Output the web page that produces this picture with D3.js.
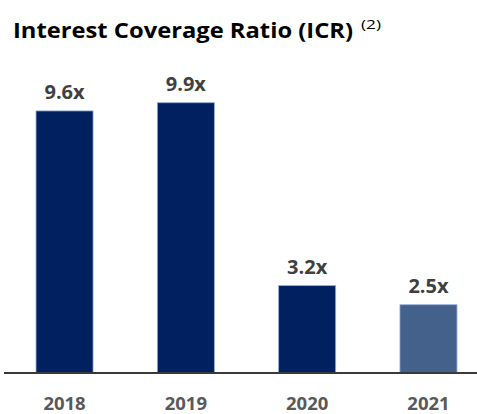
<!DOCTYPE html>
<html>
<head>
  <meta charset="utf-8">
  <script src="https://d3js.org/d3.v7.min.js"></script>
  <style>
    body { margin: 0; background: #fff; }
    text { font-family: "Open Sans", sans-serif; }
  </style>
</head>
<body>
  <script>
    // chart data
    var years = ["2018", "2019", "2020", "2021"];
    var icr = [9.6, 9.9, 3.2, 2.5];
    var valueLabels = ["9.6x", "9.9x", "3.2x", "2.5x"];
    var barColors = ["#002060", "#002060", "#002060", "#44618b"];

    var width = 477, height = 414;
    var baseline = 373;

    var svg = d3.select("body").append("svg")
        .attr("width", width)
        .attr("height", height);

    // title (Open Sans squeezed a bit to stand in for Calibri)
    svg.append("text")
        .attr("x", 13)
        .attr("y", 38)
        .attr("textLength", 340)
        .attr("lengthAdjust", "spacingAndGlyphs")
        .style("font-size", "21px")
        .style("font-weight", "bold")
        .style("fill", "#000")
        .text("Interest Coverage Ratio (ICR)");

    svg.append("text")
        .attr("x", 361)
        .attr("y", 29)
        .attr("textLength", 20)
        .attr("lengthAdjust", "spacingAndGlyphs")
        .style("font-size", "13px")
        .style("fill", "#000")
        .text("(2)");

    var x = d3.scaleBand()
        .domain(years)
        .range([4, 489])
        .paddingInner(0.53)
        .paddingOuter(0.264);

    var y = d3.scaleLinear()
        .domain([0, 10])
        .range([baseline, baseline - 273]);

    var data = years.map(function (d, i) {
      return { year: d, value: icr[i], label: valueLabels[i], color: barColors[i] };
    });

    svg.selectAll("rect.bar")
        .data(data)
        .enter()
        .append("rect")
        .attr("class", "bar")
        .attr("x", function (d) { return x(d.year); })
        .attr("y", function (d) { return y(d.value); })
        .attr("width", x.bandwidth())
        .attr("height", function (d) { return baseline - y(d.value); })
        .style("fill", function (d) { return d.color; })
        .style("stroke", "#8faadc")
        .style("stroke-width", 0.8);

    // value labels above bars
    svg.selectAll("text.val")
        .data(data)
        .enter()
        .append("text")
        .attr("class", "val")
        .attr("x", function (d) { return x(d.year) + x.bandwidth() / 2; })
        .attr("y", function (d) { return y(d.value) - 12; })
        .attr("text-anchor", "middle")
        .style("font-size", "20px")
        .style("font-weight", "bold")
        .style("fill", "#404040")
        .text(function (d) { return d.label; });

    // baseline
    svg.append("line")
        .attr("x1", 4)
        .attr("x2", width)
        .attr("y1", baseline)
        .attr("y2", baseline)
        .style("stroke", "#3a3a3a")
        .style("stroke-width", 2.2);

    // x axis year labels, no ticks
    var xAxis = d3.axisBottom(x).tickSize(0).tickPadding(0);
    var gx = svg.append("g")
        .attr("transform", "translate(0," + baseline + ")")
        .call(xAxis);
    gx.select(".domain").remove();
    gx.selectAll("text")
        .attr("dy", null)
        .attr("y", 37)
        .style("font-family", "'Open Sans', sans-serif")
        .style("font-size", "18.5px")
        .style("font-weight", "bold")
        .style("fill", "#595959");
  </script>
</body>
</html>
